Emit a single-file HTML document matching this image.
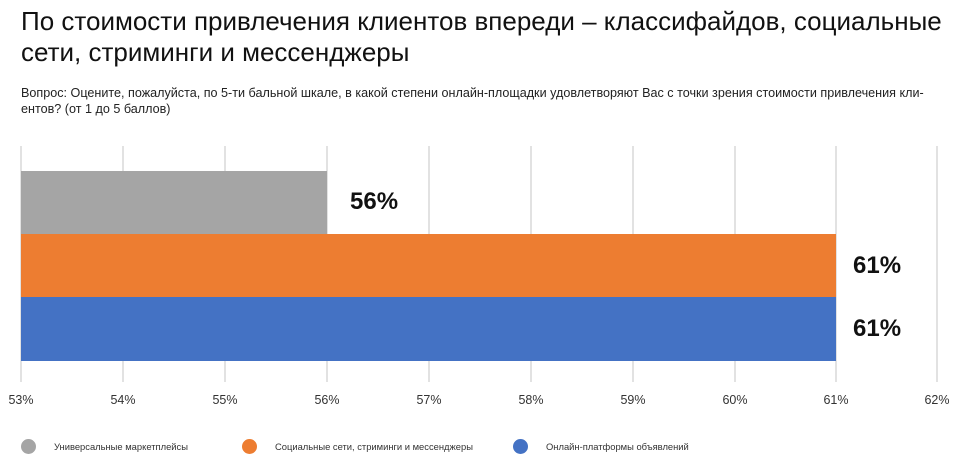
<!DOCTYPE html>
<html><head><meta charset="utf-8"><style>
body{margin:0;width:962px;height:458px;background:#fff;font-family:"Liberation Sans","DejaVu Sans",sans-serif;position:relative;overflow:hidden;color:#111}
.t{position:absolute;left:21px;top:6px;font-size:26px;line-height:31px;width:960px;white-space:nowrap}
.s{position:absolute;left:21px;top:85px;font-size:12.6px;line-height:16px;width:960px;color:#222;white-space:nowrap}
.g{position:absolute;top:146px;height:236px;width:2px;background:#e2e2e2}
.b{position:absolute;left:21px}
.l{position:absolute;font-weight:bold;font-size:24px}
.x{position:absolute;top:393px;font-size:12.5px;width:50px;text-align:center;margin-left:-25px;color:#333}
.d{position:absolute;top:439px;width:15px;height:15px;border-radius:50%}
.lg{position:absolute;top:441px;font-size:9.4px;color:#333}
</style></head><body>
<div class="t">По стоимости привлечения клиентов впереди – классифайдов, социальные<br>сети, стриминги и мессенджеры</div>
<div class="s">Вопрос: Оцените, пожалуйста, по 5-ти бальной шкале, в какой степени онлайн-площадки удовлетворяют Вас с точки зрения стоимости привлечения кли-<br>ентов? (от 1 до 5 баллов)</div>
<div class="g" style="left:20px"></div><div class="g" style="left:122px"></div><div class="g" style="left:224px"></div><div class="g" style="left:326px"></div><div class="g" style="left:428px"></div><div class="g" style="left:530px"></div><div class="g" style="left:632px"></div><div class="g" style="left:734px"></div><div class="g" style="left:835px"></div><div class="g" style="left:936px"></div>
<div class="b" style="top:171px;width:306px;height:63px;background:#a5a5a5"></div>
<div class="b" style="top:234px;width:815px;height:63px;background:#ed7d31"></div>
<div class="b" style="top:297px;width:815px;height:64px;background:#4472c4"></div>
<div class="l" style="left:350px;top:188px">56%</div>
<div class="l" style="left:853px;top:252px">61%</div>
<div class="l" style="left:853px;top:315px">61%</div>
<div class="x" style="left:21px">53%</div><div class="x" style="left:123px">54%</div><div class="x" style="left:225px">55%</div><div class="x" style="left:327px">56%</div><div class="x" style="left:429px">57%</div><div class="x" style="left:531px">58%</div><div class="x" style="left:633px">59%</div><div class="x" style="left:735px">60%</div><div class="x" style="left:836px">61%</div><div class="x" style="left:937px">62%</div>
<div class="d" style="left:21px;background:#a5a5a5"></div><div class="lg" style="left:54px">Универсальные маркетплейсы</div>
<div class="d" style="left:242px;background:#ed7d31"></div><div class="lg" style="left:275px">Социальные сети, стриминги и мессенджеры</div>
<div class="d" style="left:513px;background:#4472c4"></div><div class="lg" style="left:546px">Онлайн-платформы объявлений</div>
</body></html>
